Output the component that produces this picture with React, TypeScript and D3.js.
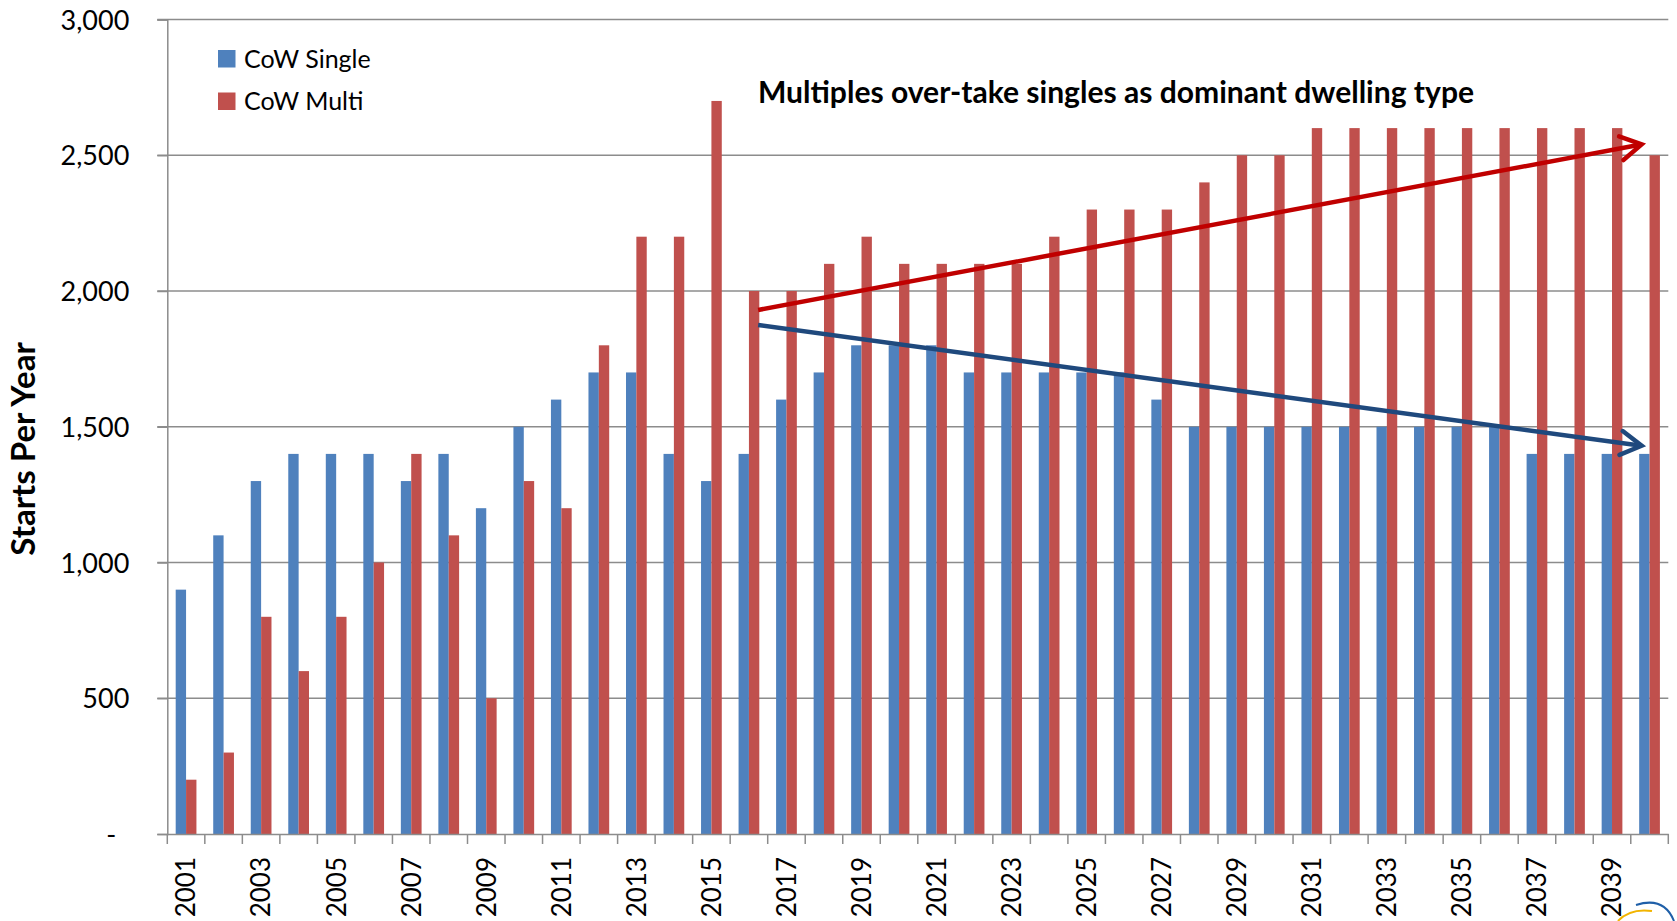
import React, { useEffect, useRef } from "react";
import * as d3 from "d3";

const years = [
  "2001", "2002", "2003", "2004", "2005", "2006", "2007", "2008", "2009", "2010",
  "2011", "2012", "2013", "2014", "2015", "2016", "2017", "2018", "2019", "2020",
  "2021", "2022", "2023", "2024", "2025", "2026", "2027", "2028", "2029", "2030",
  "2031", "2032", "2033", "2034", "2035", "2036", "2037", "2038", "2039", "2040",
];

const cowSingle = [
  900, 1100, 1300, 1400, 1400, 1400, 1300, 1400, 1200, 1500,
  1600, 1700, 1700, 1400, 1300, 1400, 1600, 1700, 1800, 1800,
  1800, 1700, 1700, 1700, 1700, 1700, 1600, 1500, 1500, 1500,
  1500, 1500, 1500, 1500, 1500, 1500, 1400, 1400, 1400, 1400,
];

const cowMulti = [
  200, 300, 800, 600, 800, 1000, 1400, 1100, 500, 1300,
  1200, 1800, 2200, 2200, 2700, 2000, 2000, 2100, 2200, 2100,
  2100, 2100, 2100, 2200, 2300, 2300, 2300, 2400, 2500, 2500,
  2600, 2600, 2600, 2600, 2600, 2600, 2600, 2600, 2600, 2500,
];

const seriesNames = ["CoW Single", "CoW Multi"];
const yTicks = [0, 500, 1000, 1500, 2000, 2500, 3000];

// trend arrows: start/end year, position inside the year band, value
const trendArrows = [
  { fromYear: "2016", fromPos: 0.745, fromValue: 1930, toYear: "2040", toPos: 0.29, toValue: 2540, color: "#C00000" },
  { fromYear: "2016", fromPos: 0.745, fromValue: 1875, toYear: "2040", toPos: 0.29, toValue: 1430, color: "#1F497D" },
];

const annotation = "Multiples over-take singles as dominant dwelling type";

const App = () => {
  const chartRef = useRef<SVGSVGElement>(null);

  useEffect(() => {
    const svg = d3.select(chartRef.current);
    const width = 1677;
    const height = 921;
    const margin = { top: 19.5, right: 8.7, bottom: 87, left: 167.3 };
    const font = "Lato, 'Open Sans', sans-serif";

    svg.selectAll("*").remove();

    const x0 = d3
      .scaleBand()
      .domain(years)
      .range([margin.left, width - margin.right]);

    const x1 = d3
      .scaleBand()
      .domain(seriesNames)
      .range([0, x0.bandwidth()])
      .paddingOuter(0.81);

    const y = d3
      .scaleLinear()
      .domain([0, 3000])
      .range([height - margin.bottom, margin.top]);

    const colors = ["#4F81BD", "#C0504D"];
    const gridColor = "#8C8C8C";

    // gridlines
    svg
      .append("g")
      .selectAll("line")
      .data(yTicks.filter((d) => d > 0))
      .enter()
      .append("line")
      .attr("x1", margin.left - 10)
      .attr("x2", width - margin.right)
      .attr("y1", (d) => y(d))
      .attr("y2", (d) => y(d))
      .attr("stroke", gridColor)
      .attr("stroke-width", 1.5);

    // Bars
    const series = [cowSingle, cowMulti];
    series.forEach((values, i) => {
      svg
        .append("g")
        .selectAll("rect")
        .data(years)
        .enter()
        .append("rect")
        .attr("x", (d) => (x0(d) as number) + (x1(seriesNames[i]) as number))
        .attr("y", (d, j) => y(values[j]))
        .attr("width", x1.bandwidth())
        .attr("height", (d, j) => y(0) - y(values[j]))
        .attr("fill", colors[i]);
    });

    // Y axis
    const yAxis = svg
      .append("g")
      .attr("transform", `translate(${margin.left}, 0)`)
      .call(
        d3
          .axisLeft(y)
          .tickValues(yTicks)
          .tickSize(10)
          .tickPadding(28)
          .tickFormat((d) => (d === 0 ? "-" : d3.format(",")(d as number)))
      );
    yAxis.selectAll("path, line").attr("stroke", gridColor).attr("stroke-width", 1.5);
    yAxis
      .selectAll("text")
      .attr("font-family", font)
      .attr("font-size", 27)
      .attr("fill", "#000")
      .attr("dy", "0.36em")
      .attr("dx", (d) => (d === 0 ? -13 : 0));

    // X axis
    const xAxis = svg
      .append("g")
      .attr("transform", `translate(0, ${y(0)})`)
      .call(d3.axisBottom(x0).tickSize(0).tickFormat((d, i) => (i % 2 === 0 ? d : "")));
    xAxis.select(".domain").attr("stroke", gridColor).attr("stroke-width", 1.5);
    xAxis
      .selectAll(".tick text")
      .attr("font-family", font)
      .attr("font-size", 26)
      .attr("fill", "#000")
      .attr("text-anchor", "end")
      .attr("transform", "rotate(-90)")
      .attr("x", -23)
      .attr("y", 0)
      .attr("dy", "0.36em");

    // category boundary ticks
    svg
      .append("g")
      .selectAll("line")
      .data([...years.map((d) => x0(d) as number), x0.range()[1]])
      .enter()
      .append("line")
      .attr("x1", (d) => d)
      .attr("x2", (d) => d)
      .attr("y1", y(0))
      .attr("y2", y(0) + 10)
      .attr("stroke", gridColor)
      .attr("stroke-width", 1.5);

    // Y Axis Label
    svg
      .append("text")
      .attr("transform", `translate(35, 449) rotate(-90)`)
      .attr("text-anchor", "middle")
      .attr("font-family", font)
      .attr("font-weight", "bold")
      .attr("font-size", 33)
      .attr("fill", "#000")
      .text("Starts Per Year");

    // Legend
    const legend = svg
      .append("g")
      .selectAll("g")
      .data(seriesNames)
      .enter()
      .append("g")
      .attr("transform", (d, i) => `translate(218, ${50 + i * 42.5})`);
    legend
      .append("rect")
      .attr("width", 17.5)
      .attr("height", 17.5)
      .attr("fill", (d, i) => colors[i]);
    legend
      .append("text")
      .attr("x", 26)
      .attr("y", 8.75)
      .attr("dy", "0.36em")
      .attr("font-family", font)
      .attr("font-size", 25)
      .attr("fill", "#000")
      .text((d) => d);

    // annotation
    svg
      .append("text")
      .attr("x", 758)
      .attr("y", 103)
      .attr("font-family", font)
      .attr("font-weight", "bold")
      .attr("font-size", 30)
      .attr("textLength", 716)
      .attr("lengthAdjust", "spacingAndGlyphs")
      .attr("fill", "#000")
      .text(annotation);

    // trend arrows
    trendArrows.forEach((a) => {
      const xa = (x0(a.fromYear) as number) + a.fromPos * x0.bandwidth();
      const ya = y(a.fromValue);
      const xb = (x0(a.toYear) as number) + a.toPos * x0.bandwidth();
      const yb = y(a.toValue);
      const ang = Math.atan2(yb - ya, xb - xa);
      const len = 24;
      const spread = Math.PI / 6;
      const arm = (s: number) => [xb - len * Math.cos(ang + s), yb - len * Math.sin(ang + s)];
      svg
        .append("line")
        .attr("x1", xa)
        .attr("y1", ya)
        .attr("x2", xb - 2 * Math.cos(ang))
        .attr("y2", yb - 2 * Math.sin(ang))
        .attr("stroke", a.color)
        .attr("stroke-width", 4.5);
      svg
        .append("path")
        .attr("d", d3.line()([arm(spread) as [number, number], [xb, yb], arm(-spread) as [number, number]]))
        .attr("fill", "none")
        .attr("stroke", a.color)
        .attr("stroke-width", 4.5)
        .attr("stroke-linecap", "round")
        .attr("stroke-linejoin", "miter");
    });

    // corner logo fragment
    svg
      .append("path")
      .attr("d", "M1636,905 Q1664,896 1674,921")
      .attr("fill", "none")
      .attr("stroke", "#1F5FA8")
      .attr("stroke-width", 2);
    svg
      .append("path")
      .attr("d", "M1618,921 Q1630,908 1652,911")
      .attr("fill", "none")
      .attr("stroke", "#F2B400")
      .attr("stroke-width", 2);
  }, []);

  return (
    <svg
      ref={chartRef}
      width={1677}
      height={921}
      style={{ position: "absolute", left: 0, top: 0, background: "#fff" }}
    ></svg>
  );
};

export default App;
